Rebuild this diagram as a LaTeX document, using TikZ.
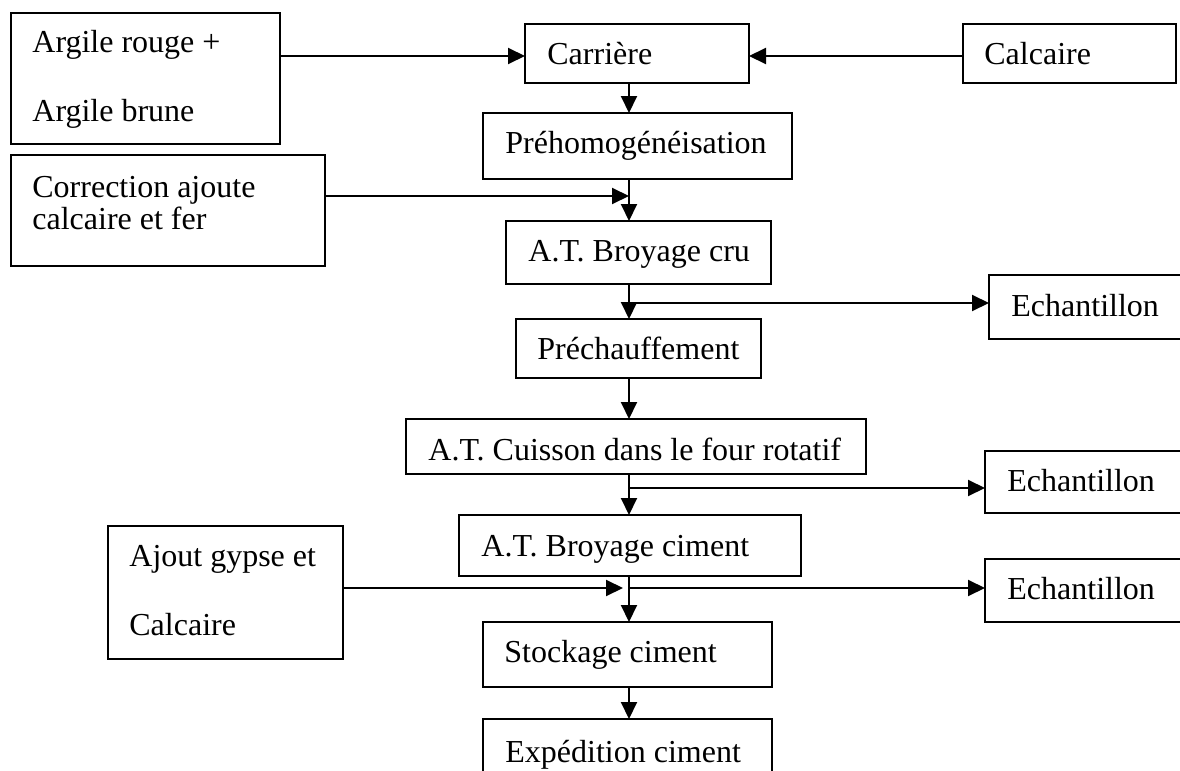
\documentclass[tikz,border=0pt]{standalone}
\usepackage{fontspec}
\setmainfont{Liberation Serif}
\usetikzlibrary{arrows.meta}
\tikzset{
  pbox/.style={draw, line width=0.8pt, inner sep=0pt, outer sep=0pt, anchor=north west},
  txt/.style={inner sep=0pt, anchor=base west, font=\fontsize{16}{19}\selectfont},
  arr/.style={line width=1pt, -{Triangle[length=8.5pt,width=8pt]}},
}
\begin{document}
\begin{tikzpicture}[x=0.5pt,y=-0.5pt]
\useasboundingbox (0,0) rectangle (1180,771);
\clip (0,0) rectangle (1180,771);
\fill[white] (0,0) rectangle (1180,771);
% boxes
\node[pbox, minimum width=134.5pt, minimum height=65.5pt] (arg) at (11,13) {};
\node[pbox, minimum width=112pt, minimum height=29.5pt] (carr) at (525,24) {};
\node[pbox, minimum width=106.5pt, minimum height=29.5pt] (calc) at (963,24) {};
\node[pbox, minimum width=154.5pt, minimum height=33pt] (preh) at (483,113) {};
\node[pbox, minimum width=157pt, minimum height=55.5pt] (corr) at (11,155) {};
\node[pbox, minimum width=132.5pt, minimum height=31.5pt] (bcru) at (506,221) {};
\node[pbox, minimum width=100pt, minimum height=32pt] (ech1) at (989,275) {};
\node[pbox, minimum width=122.5pt, minimum height=29.5pt] (prec) at (516,319) {};
\node[pbox, minimum width=230pt, minimum height=27.5pt] (cuis) at (406,419) {};
\node[pbox, minimum width=100pt, minimum height=31pt] (ech2) at (985,451) {};
\node[pbox, minimum width=171pt, minimum height=30.5pt] (bcim) at (459,515) {};
\node[pbox, minimum width=100pt, minimum height=31.5pt] (ech3) at (985,559) {};
\node[pbox, minimum width=117.5pt, minimum height=66.5pt] (ajout) at (108,526) {};
\node[pbox, minimum width=144.5pt, minimum height=32.5pt] (stock) at (483,622) {};
\node[pbox, minimum width=144.5pt, minimum height=40pt] (exped) at (483,719) {};
% texts
\node[txt] (targ1) at (32,53) {Argile rouge +};
\node[txt] (targ2) at (32,121) {Argile brune};
\node[txt] (tcarr) at (547,64) {Carrière};
\node[txt] (tcalc) at (984,64) {Calcaire};
\node[txt] (tpreh) at (505,153) {Préhomogénéisation};
\node[txt] (tcorr1) at (32,197) {Correction ajoute};
\node[txt] (tcorr2) at (32,229) {calcaire et fer};
\node[txt] (tbcru) at (528,261) {A.T. Broyage cru};
\node[txt] (tech1) at (1011,316) {Echantillon};
\node[txt] (tprec) at (537,359) {Préchauffement};
\node[txt] (tcuis) at (428,460) {A.T. Cuisson dans le four rotatif};
\node[txt] (tech2) at (1007,491) {Echantillon};
\node[txt] (tbcim) at (481,556) {A.T. Broyage ciment};
\node[txt] (tech3) at (1007,599) {Echantillon};
\node[txt] (tajout1) at (129,566) {Ajout gypse et};
\node[txt] (tajout2) at (129,635) {Calcaire};
\node[txt] (tstock) at (504,662) {Stockage ciment};
\node[txt] (texped) at (505,762) {Expédition ciment};
% junction coordinates
\coordinate (spine) at (629,0);
\coordinate (top) at (0,56);
\coordinate (j1) at (629,196);
\coordinate (j2) at (629,303);
\coordinate (j3) at (629,488);
\coordinate (j4) at (629,588);
% connectors
\draw[arr] (arg.east |- top) -- (carr.west |- top);
\draw[arr] (calc.west |- top) -- (carr.east |- top);
\draw[arr] (carr.south -| spine) -- (preh.north -| spine);
\draw[arr] (preh.south -| spine) -- (bcru.north -| spine);
\draw[arr] (corr.east |- j1) -- (j1);
\draw[arr] (bcru.south -| spine) -- (prec.north -| spine);
\draw[arr] (j2) -- (ech1.west |- j2);
\draw[arr] (prec.south -| spine) -- (cuis.north -| spine);
\draw[arr] (cuis.south -| spine) -- (bcim.north -| spine);
\draw[arr] (j3) -- (ech2.west |- j3);
\draw[arr] (bcim.south -| spine) -- (stock.north -| spine);
\draw[arr, shorten >=3pt] (ajout.east |- j4) -- (j4);
\draw[arr] (j4) -- (ech3.west |- j4);
\draw[arr] (stock.south -| spine) -- (exped.north -| spine);
\end{tikzpicture}
\end{document}
